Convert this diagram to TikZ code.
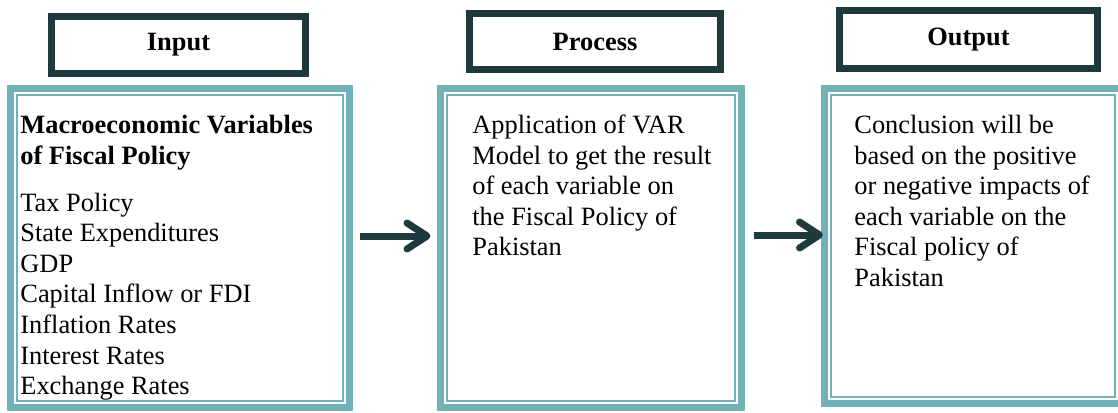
\documentclass[tikz,border=0pt]{standalone}
\usepackage{fontspec}
\setmainfont{Liberation Serif}
\usetikzlibrary{arrows.meta,positioning}
\definecolor{frameteal}{HTML}{72B1B7}
\definecolor{darkslate}{HTML}{1E3A3C}

\begin{document}
\begin{tikzpicture}[x=0.5pt,y=-0.5pt,
  head/.style={draw=darkslate,line width=3.5pt,inner sep=0pt,font=\fontsize{13.2}{15.3}\selectfont\bfseries},
  outerbox/.style={draw=frameteal,line width=3.5pt,inner sep=0pt},
  innerbox/.style={draw=frameteal,line width=1pt,inner sep=0pt},
  txt/.style={anchor=north west,align=left,inner sep=0pt,font=\fontsize{13.2}{15.3}\selectfont},
  flow/.style={draw=darkslate,line width=3.5pt,-{Straight Barb[length=10pt,width=13pt,line cap=round,line join=round]}}]
  \useasboundingbox (0,0) rectangle (1118,412);

  % headers
  \node[head,minimum width=127pt,minimum height=28.5pt] (inhead) at (178.5,45) {Input};
  \node[head,minimum width=125.5pt,minimum height=28pt] (prochead) at (595,41.5) {Process};
  \node[head,minimum width=129pt,minimum height=29pt] (outhead) at (968.5,39.5) {Output};

  % frames
  \node[outerbox,minimum width=169.5pt,minimum height=159.5pt] (inframe) at (180,248) {};
  \node[innerbox,minimum width=163pt,minimum height=153pt] (ininner) at (inframe.center) {};
  \node[outerbox,minimum width=150.5pt,minimum height=159.5pt] (procframe) at (591,248) {};
  \node[innerbox,minimum width=144pt,minimum height=153pt] (procinner) at (procframe.center) {};
  \node[outerbox,minimum width=148.5pt,minimum height=157.5pt] (outframe) at (973,246) {};
  \node[innerbox,minimum width=142pt,minimum height=151pt] (outinner) at (outframe.center) {};

  % texts (first baseline at y=133, strut 10pt high)
  \node[txt] (intext) at (20,113) {\rule{0pt}{10pt}\textbf{Macroeconomic Variables}\\\textbf{of Fiscal Policy}\\[8.2pt]Tax Policy\\State Expenditures\\GDP\\Capital Inflow or FDI\\Inflation Rates\\Interest Rates\\Exchange Rates};
  \node[txt] (proctext) at (472,113) {\rule{0pt}{10pt}Application of VAR\\Model to get the result\\of each variable on\\the Fiscal Policy of\\Pakistan};
  \node[txt] (outtext) at (854,113) {\rule{0pt}{10pt}Conclusion will be\\based on the positive\\or negative impacts of\\each variable on the\\Fiscal policy of\\Pakistan};

  % arrows
  \draw[flow,shorten <=3.25pt,shorten >=3.25pt] ([yshift=6pt]inframe.east) -- ([yshift=6pt]inframe.east -| procframe.west);
  \draw[flow,shorten <=4.25pt,shorten >=-1pt] ([yshift=6.5pt]procframe.east) -- ([yshift=6.5pt]procframe.east -| outframe.west);
\end{tikzpicture}
\end{document}
